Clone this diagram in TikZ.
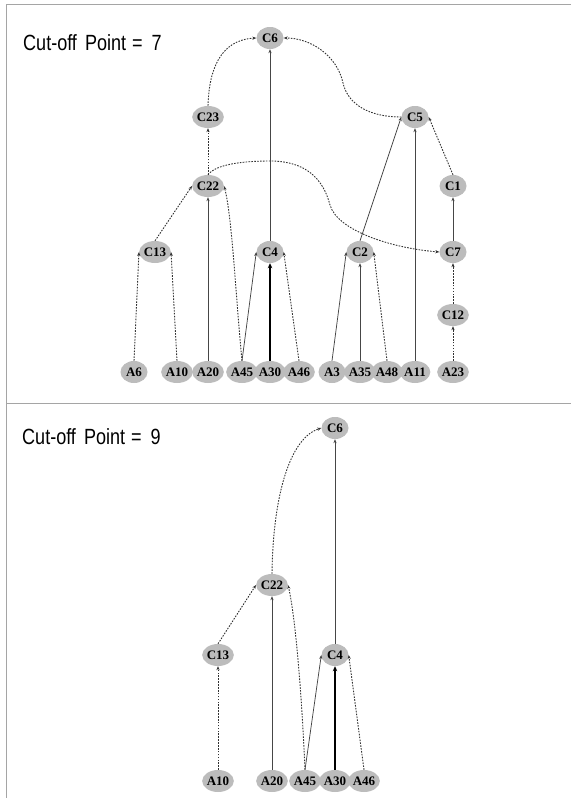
\documentclass[tikz,border=0pt]{standalone}
\usepackage{fontspec}
\setmainfont{Liberation Serif}
\newfontfamily\cutfont[FakeStretch=0.82]{Liberation Sans}
\usetikzlibrary{shapes.geometric,arrows.meta}
\definecolor{ndgray}{RGB}{188,188,188}
\definecolor{solgray}{RGB}{70,70,70}
\definecolor{dotgray}{RGB}{50,50,50}
\definecolor{framegray}{RGB}{165,165,165}
\begin{document}
\begin{tikzpicture}[x=1pt,y=-1pt,
 nd/.style={ellipse,fill=ndgray,minimum width=27pt,minimum height=22pt,inner sep=0pt,font=\fontsize{13}{13}\selectfont\bfseries},
 sol/.style={draw=solgray,line width=0.75pt,-{Stealth[length=4pt,width=3.2pt]}},
 dot/.style={draw=dotgray,line width=0.9pt,dash pattern=on 1.6pt off 1.3pt,-{Stealth[length=4pt,width=3.2pt]}},
 thk/.style={draw=black,line width=1.7pt,-{Stealth[length=5pt,width=4.5pt]}},
 frame/.style={draw=framegray,line width=1.2pt},
 cut/.style={anchor=base west,inner sep=0pt,font=\cutfont\fontsize{22}{24}\selectfont}]
\useasboundingbox (0,0) rectangle (571,798);
% frame
\coordinate (fTR) at (571,4.5);
\coordinate (fTL) at (6.5,4.5);
\coordinate (fBL) at (6.5,798);
\coordinate (sL) at (6.5,403.5);
\coordinate (sR) at (571,403.5);
\draw[frame] (fTR) -- (fTL) -- (fBL);
\draw[frame] (sL) -- (sR);
% labels
\node[cut] (lab1) at (23,50) {Cut-off\hspace{8pt}Point\hspace{6pt}=\hspace{9pt}7};
\node[cut] (lab2) at (22,444) {Cut-off\hspace{8pt}Point\hspace{6pt}=\hspace{9pt}9};
% ---- top panel nodes
\node[nd] (t6) at (270,38) {C6};
\node[nd] (t23) at (208,117) {C23};
\node[nd] (t22) at (208,186) {C22};
\node[nd] (t5) at (415,117) {C5};
\node[nd] (t1) at (453,186) {C1};
\node[nd] (t13) at (155,252) {C13};
\node[nd] (t4) at (270,252) {C4};
\node[nd] (t2) at (360,252) {C2};
\node[nd] (t7) at (453,252) {C7};
\node[nd] (t12) at (453,315) {C12};
\node[nd] (a6) at (134,372) {A6};
\node[nd] (a10) at (177,372) {A10};
\node[nd] (a20) at (208,372) {A20};
\node[nd] (a45) at (242,372) {A45};
\node[nd] (a30) at (270,372) {A30};
\node[nd] (a46) at (299,372) {A46};
\node[nd] (a3) at (332,372) {A3};
\node[nd] (a35) at (360,372) {A35};
\node[nd] (a48) at (387,372) {A48};
\node[nd] (a11) at (415,372) {A11};
\node[nd] (a23) at (453,372) {A23};
% ---- top panel edges
\draw[dot] (t23.north) .. controls (209,70) and (220,40) .. (t6.west);
\draw[dot] (t5.west) .. controls (370,117) and (348,105) .. (343,83) .. controls (337,55) and (310,38) .. (t6.east);
\draw[sol] (t4.north) -- (t6.south);
\draw[dot] (t22.north) -- (t23.south);
\draw[dot] (t22.north) .. controls (215,165) and (240,161) .. (270,161) .. controls (305,161) and (323,178) .. (330,205) .. controls (337,230) and (390,248) .. (t7.west);
\draw[dot] (t13.north) -- (t22.west);
\draw[sol] (a20.north) -- (t22.south);
\draw[dot] (a45.north) .. controls (236,300) and (232,215) .. (t22.east);
\draw[dot] (a6.north) -- (t13.west);
\draw[dot] (a10.north) -- (t13.east);
\draw[sol] (a45.north) -- (t4.west);
\draw[thk] (a30.north) -- (t4.south);
\draw[dot] (a46.north) -- (t4.east);
\draw[sol] (a3.north) -- (t2.west);
\draw[sol] (a35.north) -- (t2.south);
\draw[dot] (a48.north) -- (t2.east);
\draw[sol] (t2.north) -- (t5.west);
\draw[sol] (a11.north) -- (t5.south);
\draw[dot] (t1.north) -- (t5.east);
\draw[sol] (t7.north) -- (t1.south);
\draw[dot] (t12.north) -- (t7.south);
\draw[dot] (a23.north) -- (t12.south);
% ---- bottom panel nodes
\node[nd] (b6) at (335,428) {C6};
\node[nd] (b22) at (272,585) {C22};
\node[nd] (b13) at (218,655) {C13};
\node[nd] (b4) at (335,655) {C4};
\node[nd] (b10) at (218,781) {A10};
\node[nd] (b20) at (272,781) {A20};
\node[nd] (b45) at (305,781) {A45};
\node[nd] (b30) at (335,781) {A30};
\node[nd] (b46) at (364,781) {A46};
% ---- bottom panel edges
\draw[dot] (b22.north) .. controls (273,495) and (290,438) .. (b6.west);
\draw[sol] (b4.north) -- (b6.south);
\draw[dot] (b13.north) -- (b22.west);
\draw[sol] (b20.north) -- (b22.south);
\draw[dot] (b45.north) .. controls (302,700) and (296,620) .. (b22.east);
\draw[dot] (b10.north) -- (b13.south);
\draw[sol] (b45.north) -- (b4.west);
\draw[thk] (b30.north) -- (b4.south);
\draw[dot] (b46.north) -- (b4.east);
\end{tikzpicture}
\end{document}
